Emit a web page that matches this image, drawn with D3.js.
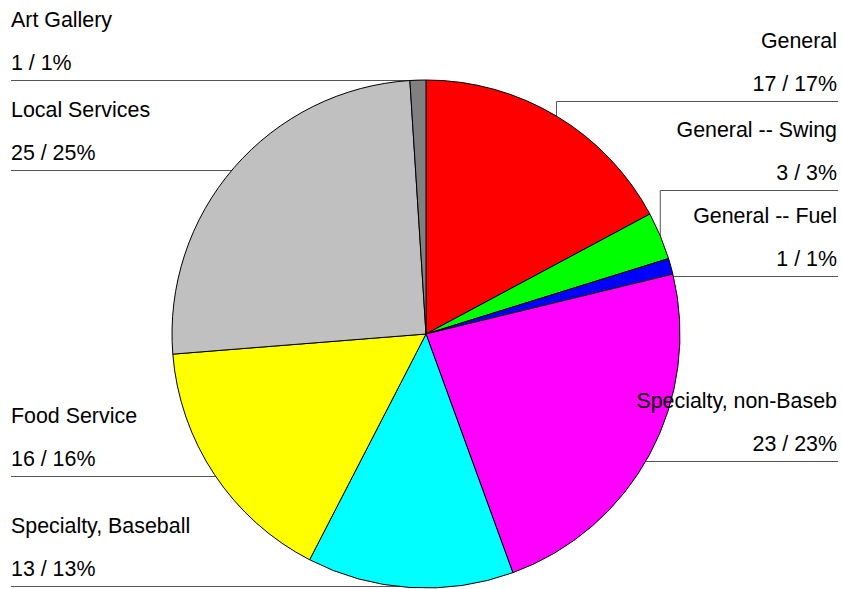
<!DOCTYPE html>
<html>
<head>
<meta charset="utf-8">
<script src="https://cdn.jsdelivr.net/npm/d3@7"></script>
<style>
  html, body { margin: 0; padding: 0; background: #fff; }
  svg { display: block; }
  text { font-family: "Liberation Sans", Arial, Helvetica, sans-serif; font-size: 21.4px; fill: #000; }
</style>
</head>
<body>
<svg id="chart" width="842" height="589"></svg>
<script>
// Slice data, clockwise from 12 o'clock
const categories = ["General", "General -- Swing", "General -- Fuel", "Specialty, non-Baseb",
                    "Specialty, Baseball", "Food Service", "Local Services", "Art Gallery"];
const values = [17, 3, 1, 23, 13, 16, 25, 1];
const percentLabels = ["17%", "3%", "1%", "23%", "13%", "16%", "25%", "1%"];
const colors = ["#ff0000", "#00ff00", "#0000ff", "#ff00ff", "#00ffff", "#ffff00", "#c0c0c0", "#808080"];

// Label layout: y of each underline (right column / left column)
const leaderY = [101.5, 190.5, 276.5, 461.5, 586.5, 476.5, 170.5, 80.5];

const width = 842, height = 589;
const cx = 426, cy = 334, radius = 254;
const rightX = 838, leftX = 11;

const svg = d3.select("#chart");
// Layers: leader lines sit underneath the pie, labels on top
const leaders = svg.append("g").attr("class", "leaders");
const g = svg.append("g").attr("transform", `translate(${cx},${cy})`);
const labels = svg.append("g").attr("class", "labels");

const pie = d3.pie().sort(null).value(d => d)
  .startAngle(0).endAngle(2 * Math.PI);
const arcs = pie(values);
const arc = d3.arc().innerRadius(0).outerRadius(radius);

// Leader lines
arcs.forEach((a, i) => {
  const mid = (a.startAngle + a.endAngle) / 2;
  const ax = cx + radius * Math.sin(mid);
  const ay = cy - radius * Math.cos(mid);
  const onRight = mid < Math.PI;
  const L = leaderY[i];
  let pts;
  if (onRight) {
    if (L < ay) pts = [[ax, ay], [ax, L], [rightX, L]];
    else pts = [[cx, L], [rightX, L]];
  } else {
    pts = [[cx, L], [leftX, L]];
  }
  leaders.append("path")
    .attr("d", d3.line()(pts))
    .attr("fill", "none")
    .attr("stroke", "#555")
    .attr("stroke-width", 1);
});

// Pie slices
g.selectAll("path.slice")
  .data(arcs)
  .join("path")
  .attr("class", "slice")
  .attr("d", arc)
  .attr("fill", (d, i) => colors[i])
  .attr("stroke", "#000")
  .attr("stroke-width", 1)
  .attr("stroke-linejoin", "round");

// Labels: category name above, "value / percent" below
arcs.forEach((a, i) => {
  const mid = (a.startAngle + a.endAngle) / 2;
  const onRight = mid < Math.PI;
  const L = leaderY[i];
  const x = onRight ? rightX - 1 : leftX;
  const anchor = onRight ? "end" : "start";
  labels.append("text")
    .attr("x", x).attr("y", L - 54)
    .attr("text-anchor", anchor)
    .text(categories[i]);
  labels.append("text")
    .attr("x", x).attr("y", L - 10.5)
    .attr("text-anchor", anchor)
    .text(`${values[i]} / ${percentLabels[i]}`);
});
</script>
</body>
</html>
